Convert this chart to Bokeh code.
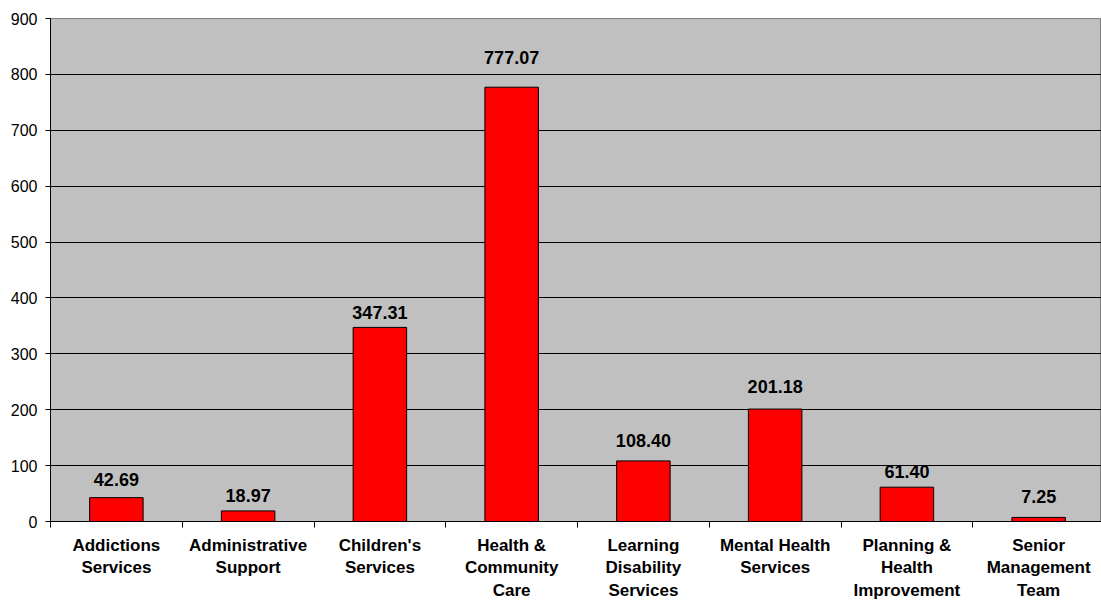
from bokeh.plotting import figure
from bokeh.models import Range1d, FixedTicker, ColumnDataSource
from bokeh.core.properties import value
from bokeh.embed import file_html
from bokeh.resources import INLINE

categories = ["Addictions\nServices", "Administrative\nSupport", "Children's\nServices",
              "Health &\nCommunity\nCare", "Learning\nDisability\nServices",
              "Mental Health\nServices", "Planning &\nHealth\nImprovement",
              "Senior\nManagement\nTeam"]
values = [42.69, 18.97, 347.31, 777.07, 108.40, 201.18, 61.40, 7.25]
y_ticks = [0, 100, 200, 300, 400, 500, 600, 700, 800, 900]
# pixel gap between bar top and label baseline (label placement in original)
label_gap = [11, 8.5, 7.5, 23, 13.5, 15.5, 9, 14]

FONT = "Liberation Sans"
xs = [i + 0.5 for i in range(len(values))]
src = ColumnDataSource(dict(x=xs, top=values,
                            lab=["%.2f" % v for v in values],
                            off=[-(g + 7) for g in label_gap]))

p = figure(frame_width=1051, frame_height=503, output_backend="svg", toolbar_location=None,
           x_range=Range1d(0, 7.977), y_range=Range1d(0, 900),
           min_border_left=50, min_border_right=0, min_border_top=18,
           min_border_bottom=0)
p.border_fill_color = "white"
p.outline_line_color = "#808080"
p.outline_line_width = 1
p.background_fill_color = "#C0C0C0"

p.vbar(x="x", top="top", width=0.406, bottom=0, source=src,
       fill_color="#FF0000", line_color="black", line_width=1)
p.text(x="x", y="top", text="lab", source=src, y_offset="off",
       text_align="center", text_baseline="alphabetic",
       text_font=value(FONT), text_font_style="bold", text_font_size="18px",
       text_color="black")

# y axis
p.yaxis.ticker = FixedTicker(ticks=y_ticks)
p.yaxis.major_tick_out = 5
p.yaxis.major_tick_in = 0
p.yaxis.minor_tick_line_color = None
p.yaxis.axis_line_color = "black"
p.yaxis.major_tick_line_color = "black"
p.yaxis.major_label_text_font = FONT
p.yaxis.major_label_text_font_size = "16px"
p.yaxis.major_label_text_color = "black"
p.yaxis.major_label_standoff = 8

# x axis
p.xaxis.ticker = FixedTicker(ticks=xs, minor_ticks=list(range(len(values) + 1)))
p.xaxis.major_label_overrides = {x: c for x, c in zip(xs, categories)}
p.xaxis.major_tick_out = 0
p.xaxis.major_tick_in = 0
p.xaxis.minor_tick_out = 6
p.xaxis.minor_tick_in = 0
p.xaxis.minor_tick_line_color = "black"
p.xaxis.axis_line_color = "black"
p.xaxis.major_label_text_font = FONT
p.xaxis.major_label_text_font_style = "bold"
p.xaxis.major_label_text_font_size = "17px"
p.xaxis.major_label_text_color = "black"
p.xaxis.major_label_standoff = 8

p.xgrid.grid_line_color = None
p.ygrid.ticker = FixedTicker(ticks=y_ticks[1:-1])
p.ygrid.grid_line_color = "black"
p.ygrid.grid_line_width = 1

open("out.html", "w").write(file_html(p, INLINE))
